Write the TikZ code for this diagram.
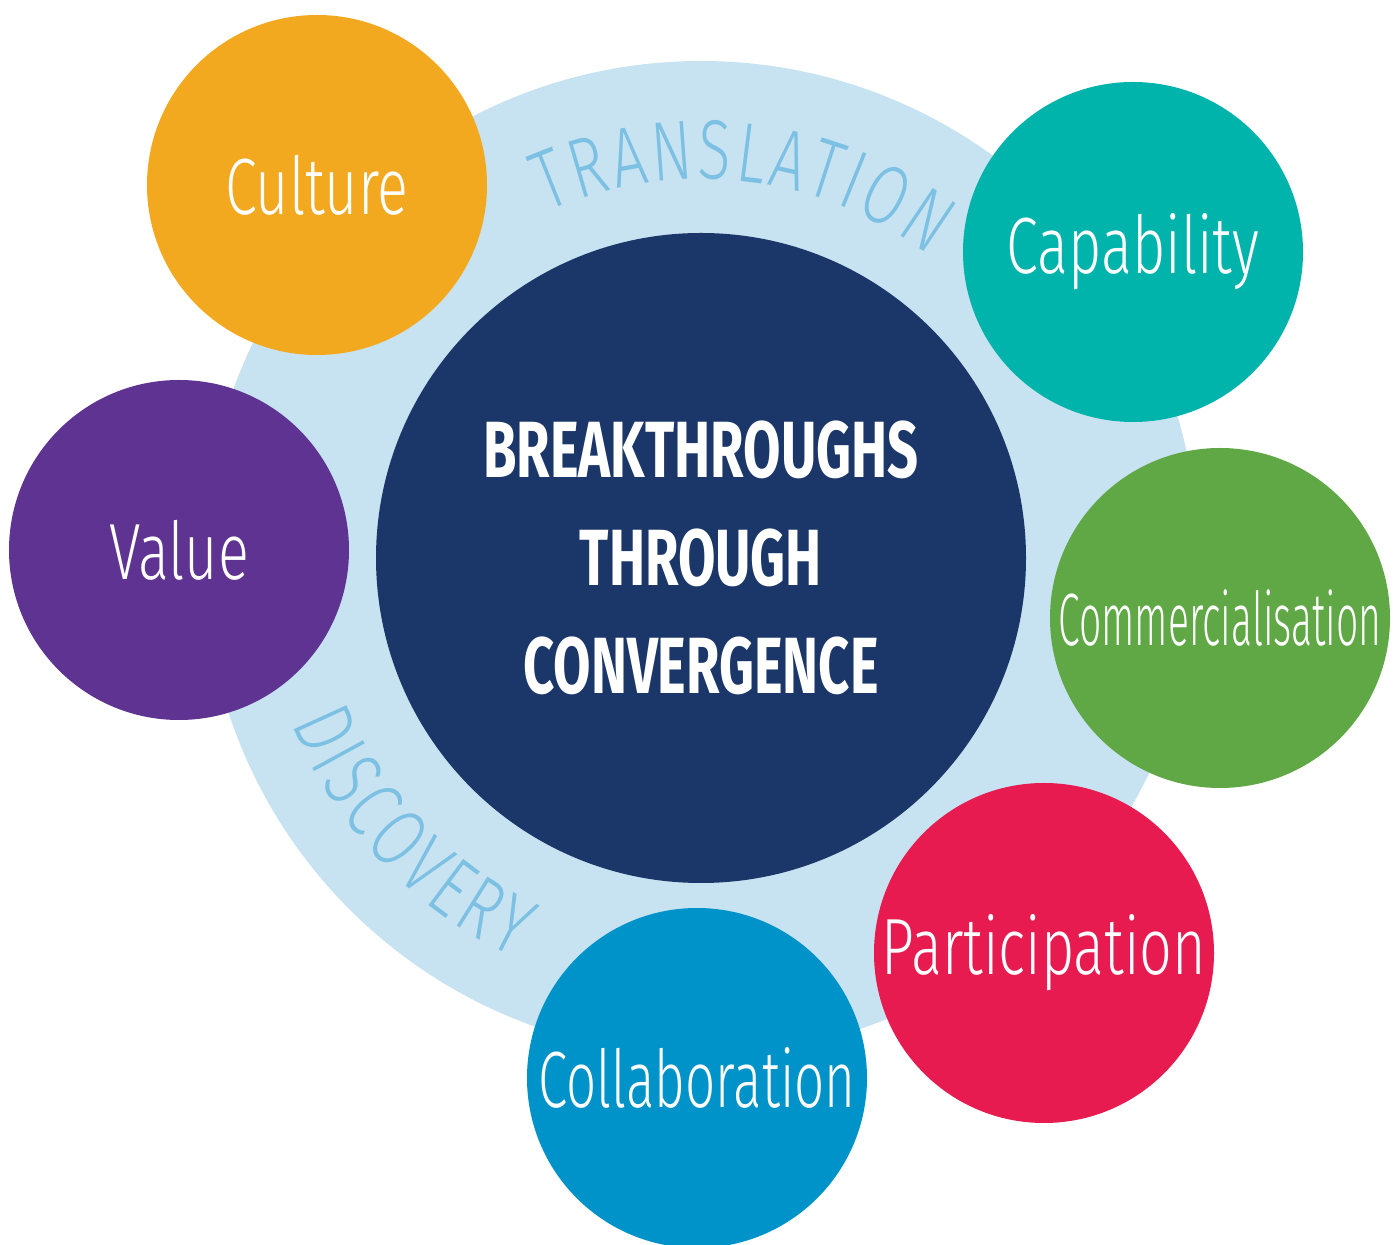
\documentclass[tikz,border=0pt]{standalone}
\usepackage{fontspec}
\usepackage{tikz}
\usetikzlibrary{decorations.text}
\newfontfamily\lightfont{Fira Sans Light}[FakeStretch=0.72]
\newfontfamily\heavyfont{Fira Sans}[FakeStretch=0.68]
\definecolor{ringblue}{HTML}{C7E2F0}
\definecolor{arcblue}{HTML}{7CC0E3}
\definecolor{navy}{HTML}{1B3668}
\definecolor{culture}{HTML}{F3A91F}
\definecolor{capability}{HTML}{00B3AB}
\definecolor{value}{HTML}{5E3391}
\definecolor{commerce}{HTML}{60A846}
\definecolor{participation}{HTML}{E71B50}
\definecolor{collaboration}{HTML}{0093C9}

\begin{document}
\begin{tikzpicture}[
			hub/.style={circle, fill=navy, minimum size=6.5cm, inner sep=0pt, text=white, align=center, font=\heavyfont\bfseries\fontsize{22.7}{30.7}\selectfont},
			topic/.style={circle, minimum size=3.4cm, inner sep=0pt, text=white, font=\lightfont\fontsize{22.7}{26}\selectfont},
			arclabel/.style={decorate, decoration={text along path, text color=arcblue, text align=fit to path, text={|\lightfont\fontsize{24}{24}\selectfont|#1}}}
			]
			\useasboundingbox (0,0) rectangle (14,12.44);
			
			% Ring and centre
			\node[circle, fill=ringblue, minimum size=9.94cm, inner sep=0pt] (ring) at (7.01,6.86) {};
			\node[hub] (hub) at (ring.center) {BREAKTHROUGHS\\THROUGH\\CONVERGENCE};
			
			% Arc labels
			\path[arclabel=TRANSLATION, shift={(hub.center)}] (114:3.79) arc (114:53:3.79);
			\path[arclabel=DISCOVERY, shift={(hub.center)}] (202:4.41) arc (202:245:4.41);
			
			% Topics
			\node[topic, fill=culture] (culture) at (3.17,10.59) {Culture};
			\node[topic, fill=capability] (capability) at (11.33,9.92) {Capability};
			\node[topic, fill=value] (value) at (1.79,6.94) {Value};
			\node[topic, fill=commerce] (commerce) at (12.20,6.26) {\scalebox{0.68}[0.93]{Commercialisation}};
			\node[topic, fill=participation] (participation) at (10.44,2.91) {Participation};
			\node[topic, fill=collaboration] (collaboration) at (6.97,1.66) {\scalebox{0.92}[1]{Collaboration}};
			
		\end{tikzpicture}
\end{document}
